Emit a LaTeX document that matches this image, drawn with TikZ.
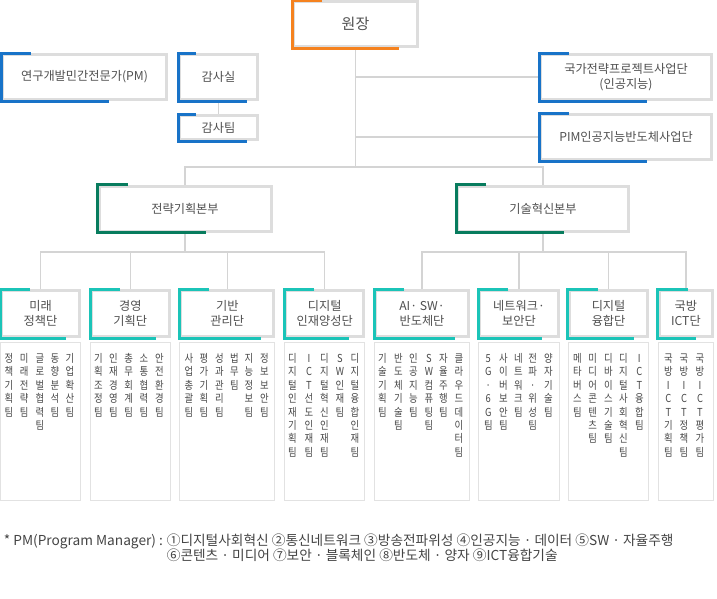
\documentclass[tikz,border=0pt]{standalone}
\usepackage{fontspec}
\setmainfont{Noto Sans CJK KR}
\newfontfamily\narrowkr[FakeStretch=0.85]{Noto Sans CJK KR}
\definecolor{bordergray}{RGB}{221,221,221}
\definecolor{linegray}{RGB}{212,212,212}
\definecolor{thingray}{RGB}{226,226,226}
\definecolor{txt}{RGB}{80,80,80}
\definecolor{teamtxt}{RGB}{72,72,72}
\definecolor{foottxt}{RGB}{68,68,68}
\definecolor{accorange}{RGB}{245,130,31}
\definecolor{accblue}{RGB}{24,115,200}
\definecolor{accgreen}{RGB}{8,124,94}
\definecolor{accteal}{RGB}{27,196,184}
\tikzset{
  box/.style={draw=bordergray, line width=3pt, fill=white, text=txt,
    font=\fontsize{12.2}{15}\selectfont, align=center, inner sep=0pt},
  listbox/.style={draw=thingray, line width=1pt, inner sep=0pt},
  accentline/.style={draw=#1, line width=3pt, line join=miter},
  conn/.style={draw=linegray, line width=1.5pt},
  subconn/.style={draw=linegray, line width=1.2pt},
  teamcol/.style={anchor=north, inner sep=0pt, align=center, text=teamtxt,
    font=\narrowkr\fontsize{11}{13.4}\selectfont},
  foot/.style={inner sep=0pt, text=foottxt, font=\fontsize{13.7}{16}\selectfont},
}
\newcommand\accentbox[4]{\draw[accentline=#2] ([xshift=#3]#1.north west) -- (#1.north west) -- (#1.south west) -- ([xshift=#4]#1.south west);}
\newcommand\tcol[3]{\node[teamcol] (#1) at (#2,352) {\rule{0pt}{10.2pt}#3};}
\begin{document}
\begin{tikzpicture}[x=1pt,y=-1pt]
\useasboundingbox (0,0) rectangle (717,598);
% top level boxes
\node[box, minimum width=124pt, minimum height=45pt, font=\fontsize{15}{18}\selectfont] (wonjang) at (355.5,24) {원장};
\node[box, minimum width=164pt, minimum height=45pt] (pm) at (84.5,77) {연구개발민간전문가(PM)};
\node[box, minimum width=78pt, minimum height=45pt] (gamsasil) at (218.5,77) {감사실};
\node[box, minimum width=78pt, minimum height=24pt] (gamsatim) at (218.5,127.5) {감사팀};
\node[box, minimum width=171pt, minimum height=45pt] (gukga) at (626,77) {국가전략프로젝트사업단\\(인공지능)};
\node[box, minimum width=171pt, minimum height=45pt] (pim) at (626,137) {PIM인공지능반도체사업단};
\node[box, minimum width=172pt, minimum height=45pt] (strat) at (185,208.5) {전략기획본부};
\node[box, minimum width=171pt, minimum height=45pt] (tech) at (543,208.5) {기술혁신본부};
% units
\node[box, minimum width=78pt, minimum height=46pt] (u1) at (40.5,313.5) {미래\\정책단};
\node[box, minimum width=77.6pt, minimum height=46pt] (u2) at (130.3,313.5) {경영\\기획단};
\node[box, minimum width=93pt, minimum height=46pt] (u3) at (227.3,313.5) {기반\\관리단};
\node[box, minimum width=77.5pt, minimum height=46pt] (u4) at (324.7,313.5) {디지털\\인재양성단};
\node[box, minimum width=93pt, minimum height=46pt] (u5) at (422,313.5) {AI· SW·\\반도체단};
\node[box, minimum width=78.4pt, minimum height=46pt] (u6) at (519,313.5) {네트워크·\\보안단};
\node[box, minimum width=78.4pt, minimum height=46pt] (u7) at (608.6,313.5) {디지털\\융합단};
\node[box, minimum width=53.7pt, minimum height=46pt] (u8) at (685.9,313.5) {국방\\ICT단};
% list boxes
\node[listbox, minimum width=80pt, minimum height=158.3pt] (l1) at (40.5,421.35) {};
\node[listbox, minimum width=79.6pt, minimum height=158.3pt] (l2) at (130.3,421.35) {};
\node[listbox, minimum width=95pt, minimum height=158.3pt] (l3) at (227.3,421.35) {};
\node[listbox, minimum width=79.5pt, minimum height=158.3pt] (l4) at (324.7,421.35) {};
\node[listbox, minimum width=95pt, minimum height=158.3pt] (l5) at (422,421.35) {};
\node[listbox, minimum width=80.4pt, minimum height=158.3pt] (l6) at (519,421.35) {};
\node[listbox, minimum width=80.4pt, minimum height=158.3pt] (l7) at (608.6,421.35) {};
\node[listbox, minimum width=55.7pt, minimum height=158.3pt] (l8) at (685.9,421.35) {};
% connectors
\coordinate (hub) at (355.5,167);
\coordinate (busL) at (0,252);
\draw[conn] (wonjang.south) -- (hub);
\draw[conn] (gukga.west -| hub) -- (gukga.west);
\draw[conn] (pim.west -| hub) -- (pim.west);
\draw[conn] (strat.north) -- (strat.north |- hub) -- (tech.north |- hub) -- (tech.north);
\draw[conn] (gamsasil.south) -- (gamsatim.north);
\draw[subconn] (strat.south) -- (strat.south |- busL);
\draw[subconn] (u1.north) -- (u1.north |- busL) -- (u4.north |- busL) -- (u4.north);
\draw[subconn] (u2.north) -- (u2.north |- busL);
\draw[subconn] (u3.north) -- (u3.north |- busL);
\draw[subconn] (tech.south) -- (tech.south |- busL);
\draw[subconn] (u5.north) -- (u5.north |- busL) -- (u8.north |- busL) -- (u8.north);
\draw[subconn] (u6.north) -- (u6.north |- busL);
\draw[subconn] (u7.north) -- (u7.north |- busL);
% accents
\accentbox{wonjang}{accorange}{30pt}{107pt}
\accentbox{pm}{accblue}{30pt}{108pt}
\accentbox{gamsasil}{accblue}{18pt}{69pt}
\accentbox{gamsatim}{accblue}{18pt}{69pt}
\accentbox{gukga}{accblue}{30pt}{108pt}
\accentbox{pim}{accblue}{30pt}{108pt}
\accentbox{strat}{accgreen}{30pt}{108pt}
\accentbox{tech}{accgreen}{30pt}{108pt}
\accentbox{u1}{accteal}{30pt}{66pt}
\accentbox{u2}{accteal}{30pt}{66pt}
\accentbox{u3}{accteal}{30pt}{82pt}
\accentbox{u4}{accteal}{30pt}{65pt}
\accentbox{u5}{accteal}{30pt}{81pt}
\accentbox{u6}{accteal}{30pt}{64pt}
\accentbox{u7}{accteal}{30pt}{66pt}
\accentbox{u8}{accteal}{30pt}{38pt}
% teams
\tcol{t1a}{9}{정\\책\\기\\획\\팀}
\tcol{t1b}{24.3}{미\\래\\전\\략\\팀}
\tcol{t1c}{40}{글\\로\\벌\\협\\력\\팀}
\tcol{t1d}{55}{동\\향\\분\\석\\팀}
\tcol{t1e}{70}{기\\업\\확\\산\\팀}
\tcol{t2a}{98.3}{기\\획\\조\\정\\팀}
\tcol{t2b}{113.3}{인\\재\\경\\영\\팀}
\tcol{t2c}{128.7}{총\\무\\회\\계\\팀}
\tcol{t2d}{144}{소\\통\\협\\력\\팀}
\tcol{t2e}{159.3}{안\\전\\환\\경\\팀}
\tcol{t3a}{189}{사\\업\\총\\괄\\팀}
\tcol{t3b}{204}{평\\가\\기\\획\\팀}
\tcol{t3c}{219.3}{성\\과\\관\\리\\팀}
\tcol{t3d}{234.3}{법\\무\\팀}
\tcol{t3e}{249}{지\\능\\정\\보\\팀}
\tcol{t3f}{264.3}{정\\보\\보\\안\\팀}
\tcol{t4a}{292.3}{디\\지\\털\\인\\재\\기\\획\\팀}
\tcol{t4b}{309}{I\\C\\T\\선\\도\\인\\재\\팀}
\tcol{t4c}{324.3}{디\\지\\털\\혁\\신\\인\\재\\팀}
\tcol{t4d}{340}{S\\W\\인\\재\\팀}
\tcol{t4e}{355}{디\\지\\털\\융\\합\\인\\재\\팀}
\tcol{t5a}{382.3}{기\\술\\기\\획\\팀}
\tcol{t5b}{398.3}{반\\도\\체\\기\\술\\팀}
\tcol{t5c}{413.3}{인\\공\\지\\능\\팀}
\tcol{t5d}{429}{S\\W\\컴\\퓨\\팅\\팀}
\tcol{t5e}{443.3}{자\\율\\주\\행\\팀}
\tcol{t5f}{459}{클\\라\\우\\드\\데\\이\\터\\팀}
\tcol{t6a}{488.3}{5\\G\\·\\6\\G\\팀}
\tcol{t6b}{503.3}{사\\이\\버\\보\\안\\팀}
\tcol{t6c}{518.3}{네\\트\\워\\크\\팀}
\tcol{t6d}{532.7}{전\\파\\·\\위\\성\\팀}
\tcol{t6e}{548.3}{양\\자\\기\\술\\팀}
\tcol{t7a}{577.3}{메\\타\\버\\스\\팀}
\tcol{t7b}{592.7}{미\\디\\어\\콘\\텐\\츠\\팀}
\tcol{t7c}{608.3}{디\\바\\이\\스\\기\\술\\팀}
\tcol{t7d}{623.3}{디\\지\\털\\사\\회\\혁\\신\\팀}
\tcol{t7e}{639.3}{I\\C\\T\\융\\합\\팀}
\tcol{t8a}{668.3}{국\\방\\I\\C\\T\\기\\획\\팀}
\tcol{t8b}{684}{국\\방\\I\\C\\T\\정\\책\\팀}
\tcol{t8c}{700}{국\\방\\I\\C\\T\\평\\가\\팀}
% footnote
\node[foot, anchor=base west] (fn1) at (3.7,545.2) {* PM(Program Manager) :};
\node[foot, anchor=base west] (fn2) at ([xshift=3.5pt]fn1.base east) {①디지털사회혁신 ②통신네트워크 ③방송전파위성 ④인공지능 · 데이터 ⑤SW · 자율주행};
\node[foot, anchor=base west] (fn3) at ([yshift=-15.5pt]fn2.base west) {⑥콘텐츠 · 미디어 ⑦보안 · 블록체인 ⑧반도체 · 양자 ⑨ICT융합기술};
\end{tikzpicture}
\end{document}
